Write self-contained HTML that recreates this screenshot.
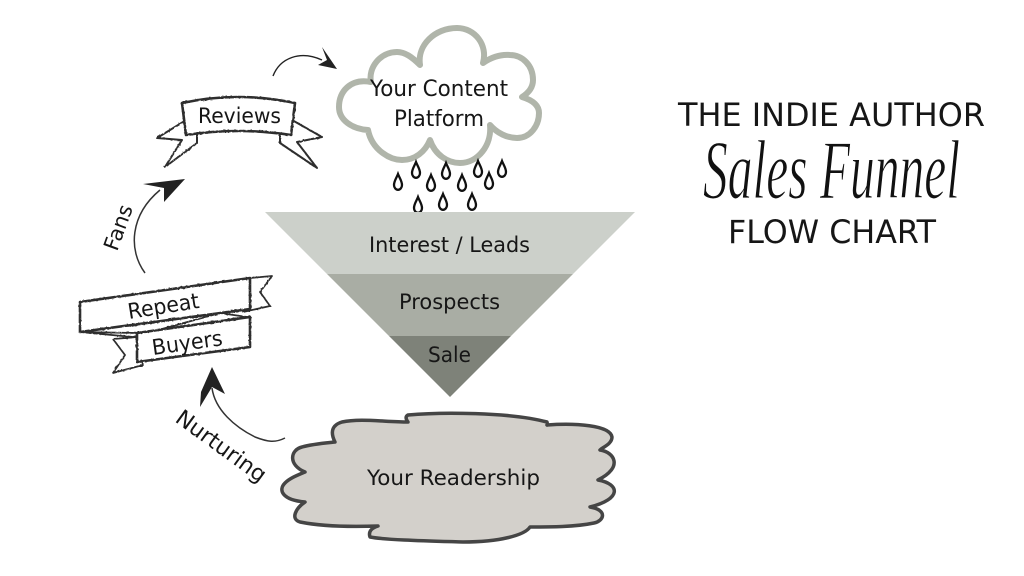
<!DOCTYPE html>
<html><head><meta charset="utf-8"><style>
html,body{margin:0;padding:0;background:#fff;width:1024px;height:576px;overflow:hidden}
svg{display:block}
text{font-family:"DejaVu Sans",sans-serif;fill:#161616}
</style></head><body>
<svg width="1024" height="576" viewBox="0 0 1024 576" xmlns="http://www.w3.org/2000/svg">
<defs>
<filter id="rough" x="-10%" y="-10%" width="120%" height="120%"><feTurbulence type="fractalNoise" baseFrequency="0.35" numOctaves="2" seed="3"/><feDisplacementMap in="SourceGraphic" scale="1.6"/></filter>
<path id="d" d="M0,-8C1.5,-4 4,-1 4,3A4,4.8 0 0 1 -4,3C-4,-1 -1.5,-4 0,-8Z" fill="#fff" stroke="#111" stroke-width="2.3"/>
</defs>
<rect width="1024" height="576" fill="#fff"/>

<!-- cloud -->
<path d="M371,82C350,78 339,92 339,107C339,120 352,129 368,130C372,150 390,160 402,160C415,160 425,152 430,140C435,155 448,163 460,163C478,163 492,145 490,125C497,133 507,138 517,138C530,138 539,126 539,113C539,105 532,100 522,97C530,92 533,86 533,80C533,65 522,55 510,55C500,54 490,58 483,63C488,45 475,28 457,28C435,28 417,45 420,65C412,57 405,52 397,52C380,52 368,68 371,82Z" fill="#fff" stroke="#b0b5aa" stroke-width="6" stroke-linejoin="round"/>
<text x="370" y="96" font-size="22" textLength="138" lengthAdjust="spacingAndGlyphs">Your Content</text>
<text x="394" y="126" font-size="22" textLength="90" lengthAdjust="spacingAndGlyphs">Platform</text>

<!-- rain -->
<use href="#d" x="398" y="182"/><use href="#d" x="416" y="170"/><use href="#d" x="431" y="183"/><use href="#d" x="446" y="171"/><use href="#d" x="462" y="183"/><use href="#d" x="478" y="169"/><use href="#d" x="489" y="181"/><use href="#d" x="502" y="169"/><use href="#d" x="418" y="205"/><use href="#d" x="443" y="202"/><use href="#d" x="472" y="202"/>

<!-- funnel -->
<polygon points="265,212 635,212 573,274 327,274" fill="#ccd0ca"/>
<polygon points="327,274 573,274 511,336 389,336" fill="#a9ada4"/>
<polygon points="389,336 511,336 450,397" fill="#7e8279"/>
<text x="369" y="252" font-size="21.5" textLength="161" lengthAdjust="spacingAndGlyphs">Interest / Leads</text>
<text x="399" y="309" font-size="21.5" textLength="101" lengthAdjust="spacingAndGlyphs">Prospects</text>
<text x="428" y="362" font-size="21.5" textLength="43" lengthAdjust="spacingAndGlyphs">Sale</text>

<!-- top arrow -->
<path d="M273,76C280,58 300,50 322,60" fill="none" stroke="#222" stroke-width="1.4"/>
<polygon points="322,47 337,69 318,65 327,60" fill="#222"/>

<!-- reviews ribbon -->
<g fill="#fff" stroke="#2e2e2e" stroke-linejoin="round" filter="url(#rough)">
<path d="M183,122L157,138L182,140L165,167L197,143L197,133Z" stroke-width="2"/>
<path d="M292,120L322,137L297,142L317,168L280,143L280,133Z" stroke-width="2"/>
<path d="M182,103Q238,91 295,103L291,135Q238,127 186,135Z" stroke-width="2.6"/>
</g>
<text x="198" y="123" font-size="21.5" textLength="83" lengthAdjust="spacingAndGlyphs">Reviews</text>

<!-- fans arrow -->
<path d="M145,273C128,250 130,215 160,190" fill="none" stroke="#333" stroke-width="1.5"/>
<polygon points="143,184 185,179 164,202 164,188" fill="#222"/>
<text transform="translate(117,252) rotate(-70)" font-size="21" textLength="47" lengthAdjust="spacingAndGlyphs">Fans</text>

<!-- repeat buyers ribbon -->
<g fill="#fff" stroke="#2e2e2e" stroke-linejoin="round" filter="url(#rough)">
<path d="M250,278L272,276L260,292L270,306L243,312Z" stroke-width="1.8"/>
<path d="M137,337L113,339L125,355L113,373L143,365Z" stroke-width="1.8"/>
<path d="M80,302L250,278L250,309L80,332Z" stroke-width="2.6"/>
<path d="M80,332L133,337L220,313L247,317L137,333Z" stroke-width="1.8"/>
<path d="M137,333L250,317L250,347L137,362Z" stroke-width="2.6"/>
</g>
<text transform="translate(129,319) rotate(-9)" font-size="21.5" textLength="72" lengthAdjust="spacingAndGlyphs">Repeat</text>
<text transform="translate(153,355) rotate(-8)" font-size="21.5" textLength="71" lengthAdjust="spacingAndGlyphs">Buyers</text>

<!-- nurturing arrow -->
<path d="M285,438C275,443 268,442 255,437C235,427 215,410 212,388" fill="none" stroke="#333" stroke-width="1.5"/>
<polygon points="212,367 225,394 212,387 200,407 201,392" fill="#222"/>
<text transform="translate(174,421) rotate(36)" font-size="22" textLength="106" lengthAdjust="spacingAndGlyphs">Nurturing</text>

<!-- readership -->
<path d="M408,415C440,412 510,412 547,422C548,426 547,425 547,425C575,423 610,425 612,437C612,444 603,447 600,450C614,452 624,467 598,480C620,484 622,499 590,507C608,510 604,521 594,523C575,527 550,527 530,527C525,535 500,542 463,542C430,541 385,540 370,537C368,531 372,528 378,526C350,527 320,526 300,522C290,519 296,508 305,502C282,500 278,490 285,483C290,478 298,475 305,472C288,465 290,450 302,447C312,444 325,443 335,442C330,432 332,425 342,422C360,418 385,422 408,422C405,418 406,416 408,415Z" fill="#d3d0cb" stroke="#454545" stroke-width="3.5" stroke-linejoin="round"/>
<text x="367" y="485" font-size="21.5" textLength="173" lengthAdjust="spacingAndGlyphs">Your Readership</text>

<!-- title -->
<text x="678" y="126" font-size="32" textLength="307" lengthAdjust="spacingAndGlyphs" fill="#111">THE INDIE AUTHOR</text>
<text transform="translate(703,198) scale(1,1.6)" font-size="52" textLength="257" lengthAdjust="spacingAndGlyphs" style="font-family:'Liberation Serif',serif;font-style:italic;fill:#111;stroke:#fff;stroke-width:.7">Sales Funnel</text>
<text x="728" y="243" font-size="32" textLength="208" lengthAdjust="spacingAndGlyphs" fill="#111">FLOW CHART</text>
</svg>
</body></html>
